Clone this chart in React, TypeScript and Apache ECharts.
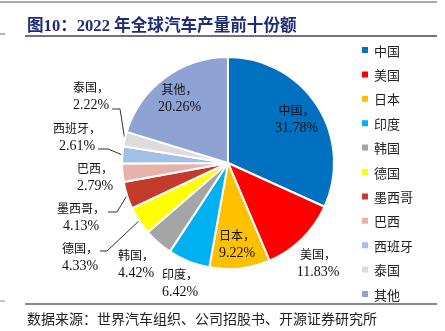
import React, { useEffect, useRef } from "react";
import * as echarts from "echarts";

const categories = ["中国", "美国", "日本", "印度", "韩国", "德国", "墨西哥", "巴西", "西班牙", "泰国", "其他"];
const shares = [31.78, 11.83, 9.22, 6.42, 4.42, 4.33, 4.13, 2.79, 2.61, 2.22, 20.26];
const colors = ["#0070C0", "#FF0000", "#FFC000", "#00B0F0", "#A5A5A5", "#FFFF00", "#C43B2D", "#E8B2AC", "#A2C0E6", "#DCDCDC", "#8EA2D4"];
const insideNames = ["中国", "日本", "其他"];

const titleText = "图10：2022 年全球汽车产量前十份额";
const sourceText = "数据来源：世界汽车组织、公司招股书、开源证券研究所";

const SERIF = "'Liberation Serif', 'Noto Sans CJK SC', serif";
const CJK = "'Noto Sans CJK SC', sans-serif";

// label placement (layout only): label centre and, when a leader line is drawn, its elbow & end
const labelPlacement: Record<string, { x: number; y: number; line?: number[][] }> = {
  美国: { x: 318, y: 262 },
  印度: { x: 180, y: 282 },
  韩国: { x: 136, y: 263 },
  德国: { x: 80, y: 256, line: [[107, 251], [100, 251]] },
  墨西哥: { x: 81, y: 216, line: [[117, 212], [108, 212]] },
  巴西: { x: 95, y: 176 },
  西班牙: { x: 77, y: 136, line: [[108, 149], [98, 149]] },
  泰国: { x: 91, y: 95, line: [[120, 109], [112, 109]] },
};

export default function App() {
  const ref = useRef<HTMLDivElement>(null);
  useEffect(() => {
    if (!ref.current) return;
    const chart = echarts.init(ref.current, undefined, { renderer: "svg" });
    const fmt = (p: any) => `{n|${p.name}，}\n{v|${Number(p.value).toFixed(2)}%}`;
    const rich = {
      n: { fontFamily: CJK, fontSize: 12, lineHeight: 18, color: "#111" },
      v: { fontFamily: SERIF, fontSize: 14, lineHeight: 18, color: "#111" },
    };
    const center = [228, 163];
    const R = 106;
    chart.setOption({
      animation: false,
      color: colors,
      legend: {
        orient: "vertical",
        left: 355,
        top: 38,
        itemWidth: 8,
        itemHeight: 8,
        itemGap: 10.4,
        icon: "rect",
        data: categories,
        textStyle: { fontFamily: CJK, fontSize: 13, color: "#222", lineHeight: 14 },
      },
      series: [
        {
          type: "pie",
          center,
          radius: [0, R],
          startAngle: 90,
          clockwise: true,
          silent: true,
          itemStyle: { borderColor: "#fff", borderWidth: 2 },
          label: {
            show: true,
            position: "outside",
            formatter: (p: any) => (insideNames.includes(p.name) ? "" : fmt(p)),
            rich,
            align: "center",
          },
          labelLine: { show: true, length: 8, length2: 12, lineStyle: { color: "#333", width: 1 } },
          labelLayout: (params: any) => {
            const name = categories[params.dataIndex];
            const pl = labelPlacement[name];
            if (!pl) return {};
            const out: any = { x: pl.x, y: pl.y, align: "center", verticalAlign: "middle" };
            if (pl.line && params.labelLinePoints) {
              out.labelLinePoints = [params.labelLinePoints[0], pl.line[0], pl.line[1]];
            }
            return out;
          },
          data: categories.map((c, i) => ({
            name: c,
            value: shares[i],
            labelLine: { show: !!(labelPlacement[c] && labelPlacement[c].line) },
          })),
        },
        {
          type: "pie",
          center,
          radius: [0, R * 1.48],
          startAngle: 90,
          clockwise: true,
          silent: true,
          legendHoverLink: false,
          itemStyle: { color: "rgba(0,0,0,0)" },
          label: {
            show: true,
            position: "inside",
            formatter: (p: any) => (insideNames.includes(p.name) ? fmt(p) : ""),
            rich,
            align: "center",
          },
          labelLine: { show: false },
          data: categories.map((c, i) => ({ name: c, value: shares[i] })),
        },
      ],
      graphic: [
        { type: "line", shape: { x1: 0, y1: 2, x2: 437, y2: 2 }, style: { stroke: "#555", lineWidth: 1 } },
        { type: "line", shape: { x1: 0, y1: 34, x2: 5, y2: 34 }, style: { stroke: "#666", lineWidth: 1 } },
        { type: "line", shape: { x1: 25, y1: 36, x2: 437, y2: 36 }, style: { stroke: "#444", lineWidth: 1.5 } },
        {
          type: "text",
          x: 27,
          y: 25,
          style: { text: titleText, fontFamily: SERIF, fontSize: 16.6, fontWeight: "bold", fill: "#1F2B74", verticalAlign: "middle" },
        },
        { type: "line", shape: { x1: 0, y1: 301, x2: 5, y2: 301 }, style: { stroke: "#888", lineWidth: 1 } },
        { type: "line", shape: { x1: 25, y1: 304, x2: 437, y2: 304 }, style: { stroke: "#888", lineWidth: 2 } },
        {
          type: "text",
          x: 27,
          y: 318,
          style: { text: sourceText, fontFamily: CJK, fontSize: 14, fill: "#222", verticalAlign: "middle" },
        },
      ],
    });
    return () => chart.dispose();
  }, []);
  return <div ref={ref} style={{ position: "fixed", left: 0, top: 0, width: 445, height: 331 }} />;
}
